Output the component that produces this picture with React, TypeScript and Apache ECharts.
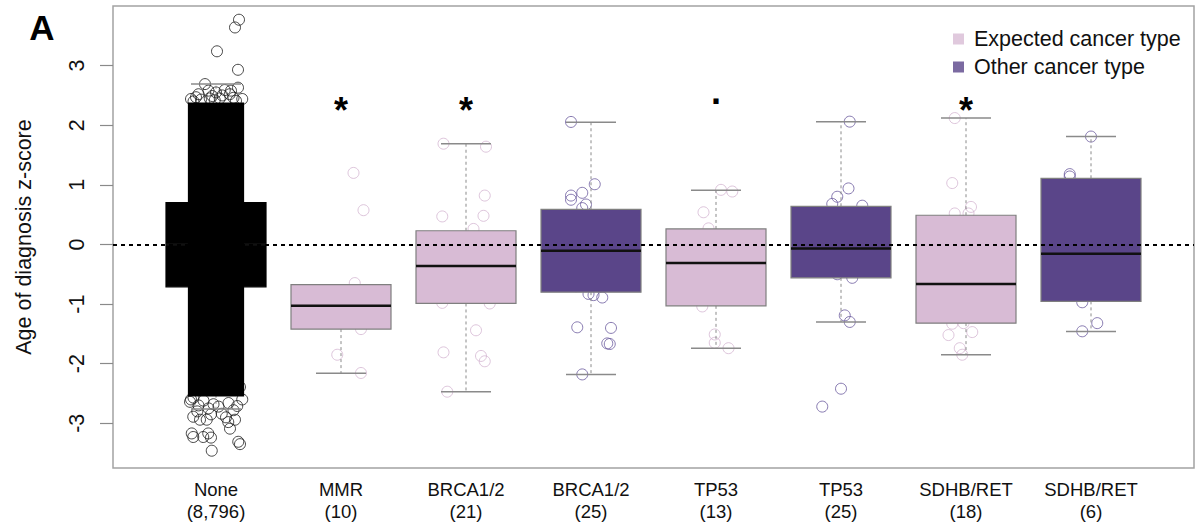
import React, { useEffect, useRef } from 'react';
import * as echarts from 'echarts';

const FONT = '"Liberation Sans", Arial, Helvetica, sans-serif';

// ---------- data ----------
const categories = ['None', 'MMR', 'BRCA1/2', 'BRCA1/2', 'TP53', 'TP53', 'SDHB/RET', 'SDHB/RET'];
const counts = ['8,796', '10', '21', '25', '13', '25', '18', '6'];
const groupType = ['none', 'expected', 'expected', 'other', 'expected', 'other', 'expected', 'other'];

const whiskerLow = [-2.76, -2.16, -2.47, -2.18, -1.74, -1.30, -1.85, -1.46];
const q1 = [-0.71, -1.42, -0.99, -0.80, -1.03, -0.56, -1.32, -0.955];
const median = [0.0, -1.03, -0.36, -0.106, -0.31, -0.067, -0.665, -0.156];
const q3 = [0.70, -0.675, 0.23, 0.59, 0.26, 0.64, 0.49, 1.11];
const whiskerHigh = [2.69, -0.675, 1.69, 2.05, 0.91, 2.06, 2.12, 1.81];

const sigMarks = ['', '*', '*', '', '.', '', '*', ''];
const sigLevel = 2.38;

const yTicks = [-3, -2, -1, 0, 1, 2, 3];
const xPositions = [1, 2, 3, 4, 5, 6, 7, 8];

// dense core of the 8,796 "None" points (drawn as a solid band)
const noneCloud = { low: -2.55, high: 2.38 };

// individually visible "None" points (fringe and outliers)
const nonePoints = [
  [1.184, 3.77], [1.152, 3.64], [1.008, 3.24], [1.176, 2.93], [1.176, 2.63], [0.912, 2.69],
  [0.80, 2.44], [0.84, 2.47], [0.88, 2.43], [0.94, 2.58], [0.97, 2.49], [1.00, 2.55],
  [1.03, 2.45], [1.07, 2.59], [1.11, 2.52], [1.14, 2.46], [1.21, 2.44], [0.82, 2.40],
  [1.05, 2.50], [0.99, 2.42], [1.16, 2.41], [0.86, 2.52], [1.12, 2.58], [0.95, 2.45],
  [0.80, -2.60], [0.82, -2.57], [0.86, -2.70], [0.90, -2.62], [0.94, -2.75], [0.98, -2.68],
  [1.02, -2.72], [1.10, -2.66], [1.14, -2.78], [1.17, -2.71], [1.21, -2.60], [0.85, -2.80],
  [0.96, -2.85], [1.08, -2.90], [1.192, -2.39], [0.792, -2.64],
  [0.806, -3.17], [0.818, -3.23], [0.898, -3.23], [0.938, -3.17], [0.96, -3.24], [0.966, -3.46],
  [1.178, -3.31], [1.192, -3.35], [1.112, -3.09], [1.098, -2.98], [0.818, -2.89], [0.872, -2.94],
  [0.926, -2.94], [1.152, -2.94], [1.046, -2.84],
];

// jittered points, expected cancer type (light)
const expectedPoints = [
  // MMR
  [2.10, 1.20], [2.18, 0.575], [2.11, -0.648], [2.16, -1.42], [1.97, -1.85], [2.16, -2.156],
  [2.02, -1.03], [2.10, -1.03], [2.18, -1.03], [1.88, -1.2],
  // BRCA1/2
  [2.82, 1.69], [3.16, 1.64], [3.15, 0.82], [2.81, 0.47], [3.14, 0.48], [3.06, 0.26],
  [2.81, -0.98], [3.19, -0.99], [3.08, -1.44], [2.82, -1.81], [3.12, -1.87], [3.15, -1.96],
  [2.85, -2.47], [3.08, -0.36], [3.16, -0.36], [2.9, -0.1], [3.0, -0.6], [2.95, 0.1],
  [3.1, -0.8], [2.87, -0.5], [3.12, 0.0],
  // TP53
  [5.04, 0.916], [5.13, 0.888], [4.90, 0.54], [4.94, 0.27], [4.89, -1.04], [4.99, -1.51],
  [4.99, -1.65], [5.10, -1.74], [4.82, -0.31], [4.87, -0.31], [5.15, -0.31], [4.95, -0.6],
  [5.05, 0.05],
  // SDHB/RET
  [6.91, 2.12], [6.89, 1.03], [7.04, 0.63], [6.91, 0.52], [7.02, 0.52], [6.89, -1.33],
  [6.98, -1.32], [7.05, -1.47], [6.86, -1.52], [6.95, -1.74], [6.97, -1.85], [6.9, 0.2],
  [7.1, -0.2], [6.95, -0.5], [7.05, -0.9], [6.88, -1.1], [7.15, 0.3], [6.92, -0.7],
];

// jittered points, other cancer type (dark)
const otherPoints = [
  // BRCA1/2
  [3.84, 2.055], [4.03, 1.01], [3.93, 0.866], [3.84, 0.82], [3.84, 0.75], [3.96, 0.67],
  [3.93, 0.61], [3.98, -0.83], [4.02, -0.85], [4.09, -0.89], [3.89, -1.39], [4.16, -1.40],
  [4.13, -1.66], [4.15, -1.67], [3.93, -2.18], [3.81, -0.106], [3.86, -0.106], [3.91, -0.106],
  [4.1, 0.3], [3.9, -0.4], [4.05, -0.6], [3.95, 0.2], [4.15, -0.3], [4.0, 0.45], [3.88, -0.7],
  // TP53
  [6.07, 2.06], [6.06, 0.94], [5.97, 0.80], [5.93, 0.68], [6.17, 0.65], [6.09, -0.56],
  [6.03, -1.19], [6.07, -1.30], [6.00, -2.42], [5.85, -2.72], [5.9, 0.4], [6.1, 0.2],
  [5.85, -0.3], [6.15, -0.1], [6.0, 0.5], [5.95, -0.45], [6.05, 0.1], [5.88, 0.3],
  [6.12, -0.4], [5.92, -0.2], [6.02, 0.25], [6.18, 0.45], [5.83, 0.05], [6.08, -0.25],
  [5.97, -0.5],
  // SDHB/RET
  [8.0, 1.81], [7.83, 1.18], [7.83, 1.14], [7.93, -0.97], [8.05, -1.32], [7.93, -1.457],
];

// ---------- styles ----------
const LIGHT = '#D8BBD5';
const DARK = '#5A4589';
const LIGHT_PT = '#D4B6D2';
const DARK_PT = '#6A5A9E';
const BOX_BORDER = '#7f7f7f';
const WHISKER = '#8a8a8a';
const BOX_W = 0.8;
const JITTER_HALF = 0.225;

export default function App() {
  const ref = useRef<HTMLDivElement>(null);

  useEffect(() => {
    if (!ref.current) return;
    const chart = echarts.init(ref.current, null, { renderer: 'svg' });

    const boxData = xPositions.map((x, i) => [x, whiskerLow[i], q1[i], median[i], q3[i], whiskerHigh[i]]);
    const sigData = xPositions
      .map((x, i) => ({ x, mark: sigMarks[i] }))
      .filter((d) => d.mark !== '')
      .map((d) => ({ value: [d.x, sigLevel], mark: d.mark }));

    const pointStyle = (c: string) => ({ color: 'rgba(0,0,0,0)', borderColor: c, borderWidth: 1 });

    const option: any = {
      animation: false,
      backgroundColor: '#ffffff',
      textStyle: { fontFamily: FONT },
      grid: {
        left: 113,
        top: 6,
        width: 1081,
        height: 462,
        show: true,
        borderColor: '#a3a3a3',
        borderWidth: 1.5,
        backgroundColor: 'rgba(0,0,0,0)',
      },
      xAxis: {
        type: 'value',
        min: 0.176,
        max: 8.824,
        axisLine: { show: false },
        axisTick: { show: false },
        splitLine: { show: false },
        axisLabel: {
          customValues: xPositions,
          formatter: (v: number) => {
            const i = Math.round(v) - 1;
            return `${categories[i]}\n(${counts[i]})`;
          },
          fontSize: 18.5,
          lineHeight: 22.5,
          margin: 10,
          color: '#111',
          fontFamily: FONT,
        },
      },
      yAxis: {
        type: 'value',
        min: -3.75,
        max: 4.0,
        axisLine: { show: false },
        splitLine: { show: false },
        axisTick: {
          show: true,
          customValues: yTicks,
          length: 13,
          lineStyle: { color: '#8a8a8a', width: 1.2 },
        },
        axisLabel: {
          customValues: yTicks,
          rotate: 90,
          margin: 25,
          fontSize: 21.5,
          color: '#111',
          fontFamily: FONT,
        },
        name: 'Age of diagnosis z-score',
        nameLocation: 'middle',
        nameRotate: 90,
        nameGap: 78,
        nameTextStyle: { fontSize: 21.5, color: '#111', fontFamily: FONT },
      },
      legend: {
        show: true,
        orient: 'vertical',
        left: 948,
        top: 23,
        itemWidth: 11,
        itemHeight: 11,
        itemGap: 6,
        icon: 'rect',
        selectedMode: false,
        textStyle: { fontSize: 21.5, color: '#111', fontFamily: FONT, lineHeight: 22, padding: [0, 0, 0, 5] },
        data: [
          { name: 'Expected cancer type', itemStyle: { color: LIGHT, borderWidth: 0 } },
          { name: 'Other cancer type', itemStyle: { color: DARK, borderWidth: 0 } },
        ],
      },
      graphic: [
        {
          type: 'text',
          x: 42,
          y: 27,
          style: {
            text: 'A',
            fontSize: 35,
            fontWeight: 'bold',
            fontFamily: FONT,
            fill: '#000',
            align: 'center',
            verticalAlign: 'middle',
          },
        },
      ],
      series: [
        {
          type: 'scatter',
          name: 'None',
          z: 2,
          silent: true,
          symbol: 'circle',
          symbolSize: 11,
          itemStyle: pointStyle('#1a1a1a'),
          data: nonePoints,
        },
        {
          type: 'scatter',
          name: 'Expected cancer type',
          z: 2,
          silent: true,
          symbol: 'circle',
          symbolSize: 11,
          itemStyle: pointStyle(LIGHT_PT),
          data: expectedPoints,
        },
        {
          type: 'scatter',
          name: 'Other cancer type',
          z: 2,
          silent: true,
          symbol: 'circle',
          symbolSize: 11,
          itemStyle: pointStyle(DARK_PT),
          data: otherPoints,
        },
        {
          type: 'custom',
          name: 'boxes',
          z: 3,
          silent: true,
          data: boxData,
          renderItem: (params: any, api: any) => {
            const i = params.dataIndex;
            const x = api.value(0);
            const t = groupType[i];
            const half = api.size([BOX_W, 0])[0] / 2;
            const capHalf = half / 2;
            const cx = api.coord([x, 0])[0];
            const yLo = api.coord([x, api.value(1)])[1];
            const yA = api.coord([x, api.value(2)])[1];
            const yM = api.coord([x, api.value(3)])[1];
            const yB = api.coord([x, api.value(4)])[1];
            const yHi = api.coord([x, api.value(5)])[1];
            const fill = t === 'none' ? '#000' : t === 'expected' ? LIGHT : DARK;
            const stroke = t === 'none' ? '#000' : BOX_BORDER;
            const wStyle = { stroke: WHISKER, lineWidth: 1, lineDash: [3, 3] };
            const cStyle = { stroke: WHISKER, lineWidth: 1.5 };
            return {
              type: 'group',
              children: [
                { type: 'line', shape: { x1: cx, y1: yB, x2: cx, y2: yHi }, style: wStyle },
                { type: 'line', shape: { x1: cx, y1: yA, x2: cx, y2: yLo }, style: wStyle },
                { type: 'line', shape: { x1: cx - capHalf, y1: yHi, x2: cx + capHalf, y2: yHi }, style: cStyle },
                { type: 'line', shape: { x1: cx - capHalf, y1: yLo, x2: cx + capHalf, y2: yLo }, style: cStyle },
                {
                  type: 'rect',
                  shape: { x: cx - half, y: yB, width: 2 * half, height: yA - yB },
                  style: { fill, stroke, lineWidth: 1.2 },
                },
                {
                  type: 'line',
                  shape: { x1: cx - half, y1: yM, x2: cx + half, y2: yM },
                  style: { stroke: '#111', lineWidth: 2.5 },
                },
              ],
            };
          },
        },
        {
          type: 'custom',
          name: 'cloud',
          z: 4,
          silent: true,
          data: [[1, noneCloud.low, noneCloud.high]],
          renderItem: (params: any, api: any) => {
            const x = api.value(0);
            const p1 = api.coord([x - JITTER_HALF, api.value(2)]);
            const p2 = api.coord([x + JITTER_HALF, api.value(1)]);
            return {
              type: 'rect',
              shape: { x: p1[0], y: p1[1], width: p2[0] - p1[0], height: p2[1] - p1[1] },
              style: { fill: '#000' },
            };
          },
        },
        {
          type: 'line',
          name: 'zero',
          z: 5,
          data: [],
          silent: true,
          markLine: {
            silent: true,
            symbol: 'none',
            label: { show: false },
            lineStyle: { color: '#000', type: [4, 4], width: 2.2 },
            data: [{ yAxis: 0 }],
          },
        },
        {
          type: 'custom',
          name: 'sig',
          z: 6,
          silent: true,
          data: sigData,
          renderItem: (params: any, api: any) => {
            const d = sigData[params.dataIndex];
            const p = api.coord([api.value(0), api.value(1)]);
            const fs = 36;
            const off = d.mark === '*' ? 0.22 * fs : -0.3 * fs;
            return {
              type: 'text',
              x: p[0],
              y: p[1] + off,
              style: {
                text: d.mark,
                fontSize: fs,
                fontWeight: 'bold',
                fontFamily: FONT,
                fill: '#000',
                align: 'center',
                verticalAlign: 'middle',
              },
            };
          },
        },
      ],
    };

    chart.setOption(option);
    return () => chart.dispose();
  }, []);

  return (
    <div
      ref={ref}
      style={{ position: 'fixed', left: 0, top: 0, width: 1197, height: 529, background: '#fff' }}
    />
  );
}
